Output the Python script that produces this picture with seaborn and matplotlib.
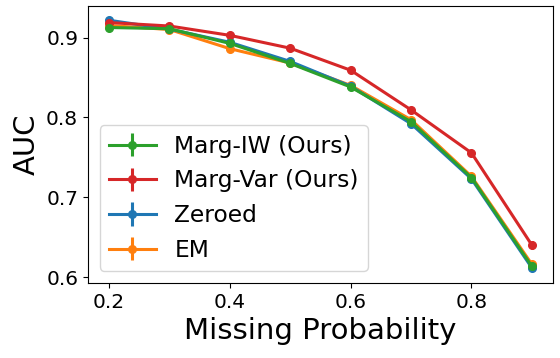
import numpy as np
import matplotlib
matplotlib.use('Agg')
import matplotlib.pyplot as plt
import seaborn as sns

# missing probability on the x axis
miss_prob = [0.2, 0.3, 0.4, 0.5, 0.6, 0.7, 0.8, 0.9]

# mean AUC per method
auc_marg_iw = [0.9125, 0.9110, 0.8926, 0.8675, 0.8380, 0.7945, 0.7245, 0.6135]
auc_marg_var = [0.9187, 0.9144, 0.9027, 0.8866, 0.8590, 0.8093, 0.7555, 0.6400]
auc_zeroed = [0.9216, 0.9105, 0.8940, 0.8700, 0.8390, 0.7920, 0.7230, 0.6115]
auc_em = [0.9150, 0.9100, 0.8860, 0.8680, 0.8400, 0.7970, 0.7260, 0.6160]

# std of AUC per method
err_marg_iw = [0.002, 0.002, 0.002, 0.002, 0.002, 0.002, 0.002, 0.003]
err_marg_var = [0.002, 0.002, 0.002, 0.002, 0.002, 0.002, 0.002, 0.005]
err_zeroed = [0.002, 0.002, 0.002, 0.002, 0.002, 0.002, 0.002, 0.003]
err_em = [0.002, 0.002, 0.002, 0.002, 0.002, 0.002, 0.002, 0.003]

# plain matplotlib look (black spines, no grid), seaborn tab10 colours
plt.style.use('default')
pal = sns.color_palette('tab10')

fig, ax = plt.subplots(figsize=(5.6, 3.58), dpi=100)

# draw order so that green sits on top, legend order set below
h_em = ax.errorbar(miss_prob, auc_em, yerr=err_em, color=pal[1], lw=2.2,
                   marker='o', ms=5.5, label='EM')
h_zero = ax.errorbar(miss_prob, auc_zeroed, yerr=err_zeroed, color=pal[0], lw=2.2,
                     marker='o', ms=5.5, label='Zeroed')
h_var = ax.errorbar(miss_prob, auc_marg_var, yerr=err_marg_var, color=pal[3], lw=2.2,
                    marker='o', ms=5.5, label='Marg-Var (Ours)')
h_iw = ax.errorbar(miss_prob, auc_marg_iw, yerr=err_marg_iw, color=pal[2], lw=2.2,
                   marker='o', ms=5.5, label='Marg-IW (Ours)')

ax.set_xlabel('Missing Probability', fontsize=21)
ax.set_ylabel('AUC', fontsize=21)
ax.tick_params(labelsize=14.5)
ax.set_yticks([0.6, 0.7, 0.8, 0.9])
ax.set_xticks([0.2, 0.4, 0.6, 0.8])

ax.legend(handles=[h_iw, h_var, h_zero, h_em], loc='lower left', fontsize=16.8)

fig.subplots_adjust(left=0.157, right=0.9875, top=0.983, bottom=0.21)
fig.savefig('out.png', dpi=100)
